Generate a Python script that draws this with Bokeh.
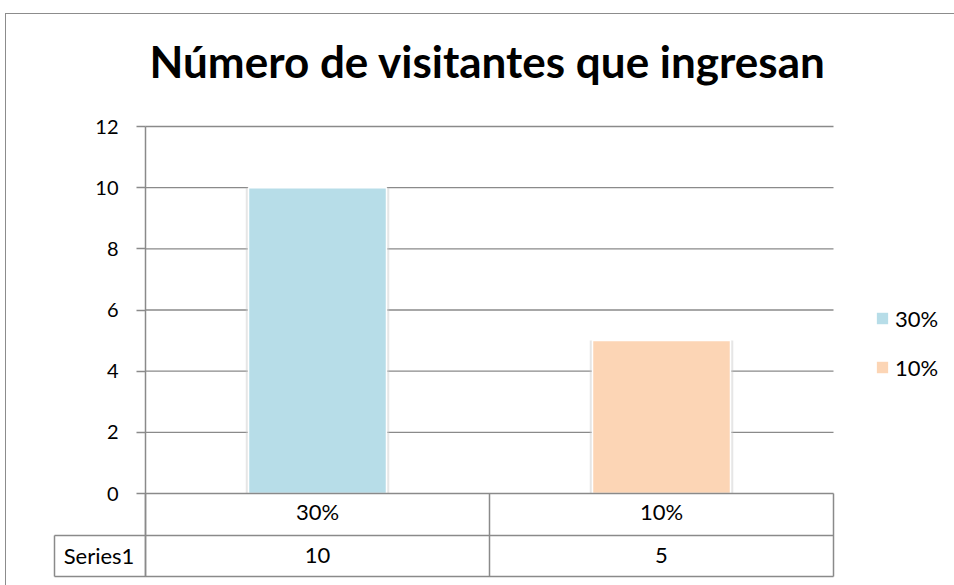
from bokeh.plotting import figure
from bokeh.models import ColumnDataSource, FixedTicker, Legend, LegendItem, Range1d
from bokeh.embed import file_html
from bokeh.resources import INLINE
from bokeh.core.properties import value

# ---------------- data ----------------
title_text = "Número de visitantes que ingresan"
categories = ["30%", "10%"]
values = [10, 5]
series_name = "Series1"
colors = ["#B7DDE8", "#FCD5B5"]
y_ticks = [0, 2, 4, 6, 8, 10, 12]

# ---------------- layout constants ----------------
W, H = 954, 585
PX_PER_CAT = 344.0
PX_PER_UNIT = 367.0 / 12.0
GRAY = "#8a8a8a"
FONT = "Lato"

x_pos = [i + 1 for i in range(len(categories))]
x_lo = 0.5
x_hi = len(categories) + 0.5
x_start = x_lo - 95 / PX_PER_CAT
x_end = x_hi + 121 / PX_PER_CAT
y_end = 393 / PX_PER_UNIT
y_start = -86 / PX_PER_UNIT
cell_left = x_lo - 91 / PX_PER_CAT
row_split = -42 / PX_PER_UNIT
table_bottom = -83 / PX_PER_UNIT
row2_y = -62 / PX_PER_UNIT
series_x = x_lo - 46.5 / PX_PER_CAT
bar_w = 138 / PX_PER_CAT

p = figure(width=W, height=H, output_backend="svg", toolbar_location=None,
           x_range=Range1d(x_start, x_end), y_range=Range1d(y_start, y_end),
           min_border_left=50, min_border_right=0, min_border_top=100,
           min_border_bottom=6)
p.background_fill_color = "white"
p.background_fill_alpha = 0
p.border_fill_alpha = 0
p.outline_line_color = None
p.xgrid.visible = False
p.ygrid.visible = False
# outer chart-area border (left and top edges visible in the reference)
p.styles = {"box-shadow": "inset 5px 13px 0 0 #ffffff, inset 6px 14px 0 0 #8c8c8c",
            "background-color": "#ffffff"}

# title
p.title.text = title_text
p.title.text_font = FONT
p.title.text_font_style = "bold"
p.title.text_font_size = "44px"
p.title.text_color = "black"
p.title.align = "left"
p.title.offset = 99
p.title.standoff = 28

# gridlines (from tick list)
grid_y = [t for t in y_ticks if t != 0]
p.segment(x0=[x_lo] * len(grid_y), x1=[x_hi] * len(grid_y), y0=grid_y, y1=grid_y,
          line_color=GRAY, line_width=1.3)

# bars
src = ColumnDataSource(dict(x=x_pos, top=values, color=colors, label=categories))
p.vbar(x="x", top="top", width=bar_w + 0.016, bottom=0, source=src,
       fill_color="#c8c8c8", fill_alpha=0.45, line_color=None)
bars = p.vbar(x="x", top="top", width=bar_w, bottom=0, source=src,
              fill_color="color", line_color="white", line_width=1.5)

# data table lines
tx0 = [cell_left, cell_left, x_lo, x_lo + 1, x_hi, cell_left]
tx1 = [x_hi, x_hi, x_lo, x_lo + 1, x_hi, cell_left]
ty0 = [row_split, table_bottom, 0, 0, 0, row_split]
ty1 = [row_split, table_bottom, table_bottom, table_bottom, table_bottom, table_bottom]
p.segment(x0=tx0, x1=tx1, y0=ty0, y1=ty1, line_color=GRAY, line_width=1.5)

# table values row
p.text(x=x_pos, y=[row2_y] * len(values), text=[str(v) for v in values],
       text_align="center", text_baseline="middle", text_font=value(FONT),
       text_font_size="22px", text_color="black")
p.text(x=[series_x], y=[row2_y], text=[series_name],
       text_align="center", text_baseline="middle", text_font=value(FONT),
       text_font_size="22px", text_color="black")

# x axis (category row)
xa = p.xaxis[0]
xa.fixed_location = 0
xa.bounds = (x_lo, x_hi)
xa.ticker = FixedTicker(ticks=x_pos)
xa.major_label_overrides = {x: c for x, c in zip(x_pos, categories)}
xa.major_tick_in = 0
xa.major_tick_out = 0
xa.minor_tick_line_color = None
xa.axis_line_color = GRAY
xa.axis_line_width = 1.5
xa.major_label_text_font = FONT
xa.major_label_text_font_size = "22px"
xa.major_label_text_color = "black"
xa.major_label_standoff = 4

# y axis
ya = p.yaxis[0]
ya.fixed_location = x_lo
ya.bounds = (table_bottom, y_ticks[-1])
ya.ticker = FixedTicker(ticks=y_ticks)
ya.major_tick_in = 0
ya.major_tick_out = 9
ya.major_tick_line_color = GRAY
ya.major_tick_line_width = 1.3
ya.minor_tick_line_color = None
ya.axis_line_color = GRAY
ya.axis_line_width = 1.5
ya.major_label_text_font = FONT
ya.major_label_text_font_size = "20px"
ya.major_label_text_color = "black"
ya.major_label_standoff = 18

# legend
items = [LegendItem(label=c, renderers=[bars], index=i) for i, c in enumerate(categories)]
legend = Legend(items=items, location=(824, 197), orientation="vertical",
                glyph_width=16, glyph_height=16, label_height=30, spacing=19,
                label_standoff=5, padding=0, margin=0,
                border_line_color=None, background_fill_alpha=0,
                label_text_font=FONT, label_text_font_size="22px",
                label_text_color="black")
p.add_layout(legend, "center")

open("out.html", "w").write(file_html(p, INLINE))
